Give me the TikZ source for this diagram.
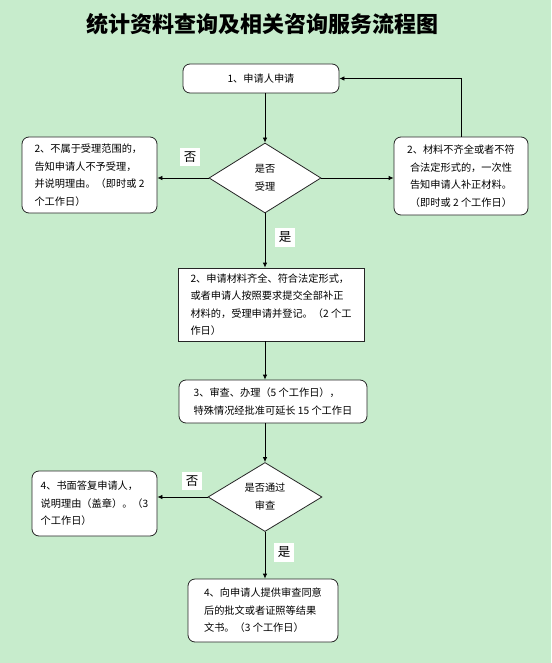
\documentclass[tikz,border=0pt]{standalone}
\usepackage{fontspec}
\setmainfont{Noto Sans CJK SC}
\usetikzlibrary{arrows.meta,positioning,shapes.geometric}
\definecolor{bggreen}{RGB}{199,236,204}

\tikzset{
  boxbase/.style={draw=black!85, fill=white, line width=0.8pt, inner sep=0pt,
    font=\fontsize{10.2}{17.5}\selectfont, align=left},
  rbox/.style={boxbase, rounded corners=7pt},
  sbox/.style={boxbase},
  decide/.style={diamond, draw=black!85, fill=white, line width=0.8pt, inner sep=0pt,
    font=\fontsize{10.2}{18}\selectfont, align=center},
  yesno/.style={fill=white, inner sep=4pt, font=\fontsize{12.5}{13}\selectfont},
  flow/.style={line width=0.8pt, -{Latex[length=5pt,width=4.5pt]}},
}

\begin{document}
\begin{tikzpicture}[x=1pt, y=-1pt]
  \fill[bggreen] (0,0) rectangle (551,663);
  \useasboundingbox (0,0) rectangle (551,663);

  % title
  \node (title) at (262,24) {\fontsize{22}{24}\selectfont\bfseries 统计资料查询及相关咨询服务流程图};

  % steps
  \node[rbox, minimum width=156pt, minimum height=29pt, align=center] (apply) at (261,78.5) {1、申请人申请};
  \node[decide, minimum width=112pt, minimum height=70pt] (accept) at (265,178) {是否\\受理};
  \node[rbox, minimum width=135pt, minimum height=76pt] (refuse) at (89.5,175)
    {2、不属于受理范围的，\\告知申请人不予受理，\\并说明理由。（即时或 2\\个工作日）};
  \node[rbox, minimum width=134pt, minimum height=78pt, align=center] (supply) at (461,176)
    {2、材料不齐全或者不符\\合法定形式的，一次性\\告知申请人补正材料。\\（即时或 2 个工作日）};
  \node[sbox, minimum width=186pt, minimum height=73pt] (register) at (271,304.5)
    {2、申请材料齐全、符合法定形式，\\或者申请人按照要求提交全部补正\\材料的，受理申请并登记。（2 个工\\作日）};
  \node[rbox, minimum width=188pt, minimum height=43pt] (handle) at (273,401.5)
    {3、审查、办理（5 个工作日），\\特殊情况经批准可延长 15 个工作日};
  \node[decide, minimum width=114pt, minimum height=69pt] (pass) at (265,497) {是否通过\\审查};
  \node[rbox, minimum width=125pt, minimum height=65pt] (reply) at (94.5,503.5)
    {4、书面答复申请人，\\说明理由（盖章）。（3\\个工作日）};
  \node[rbox, minimum width=150pt, minimum height=63pt] (result) at (263,610.5)
    {4、向申请人提供审查同意\\后的批文或者证照等结果\\文书。（3 个工作日）};

  % connectors
  \draw[flow] (apply.south -| accept.north) -- (accept.north);
  \draw[flow] (accept.west) -- (accept.west -| refuse.east);
  \draw[flow] (accept.east) -- (accept.east -| supply.west);
  \draw[flow] (supply.north) |- (apply.east);
  \draw[flow] (accept.south) -- (accept.south |- register.north);
  \draw[flow] (register.south -| accept.south) -- (handle.north -| accept.south);
  \draw[flow] (handle.south -| pass.north) -- (pass.north);
  \draw[flow] (pass.west) -- (pass.west -| reply.east);
  \draw[flow] (pass.south) -- (pass.south |- result.north);

  % labels
  \node[yesno] (no1) at (190,157) {否};
  \node[yesno] (yes1) at (285,237) {是};
  \node[yesno] (no2) at (192,481) {否};
  \node[yesno] (yes2) at (284,552) {是};
\end{tikzpicture}
\end{document}
